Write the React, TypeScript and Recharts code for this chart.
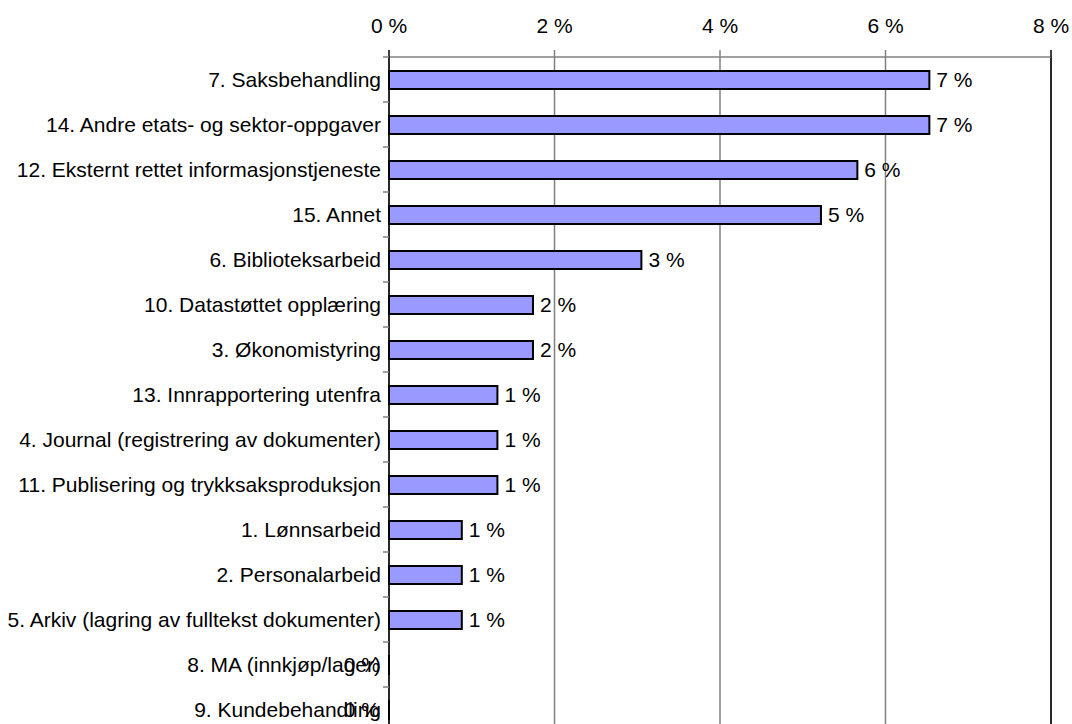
import React from 'react';
import { BarChart, Bar, XAxis, YAxis, CartesianGrid, ReferenceLine, LabelList } from 'recharts';

const categories = [
  '7. Saksbehandling',
  '14. Andre etats- og sektor-oppgaver',
  '12. Eksternt rettet informasjonstjeneste',
  '15. Annet',
  '6. Biblioteksarbeid',
  '10. Datastøttet opplæring',
  '3. Økonomistyring',
  '13. Innrapportering utenfra',
  '4. Journal (registrering av dokumenter)',
  '11. Publisering og trykksaksproduksjon',
  '1. Lønnsarbeid',
  '2. Personalarbeid',
  '5. Arkiv (lagring av fulltekst dokumenter)',
  '8. MA (innkjøp/lager)',
  '9. Kundebehandling',
];

const shares = [6.53, 6.53, 5.66, 5.22, 3.05, 1.74, 1.74, 1.31, 1.31, 1.31, 0.88, 0.88, 0.88, 0, 0];

const xTicks = [0, 2, 4, 6, 8];

const data = categories.map((name, i) => ({ name, value: shares[i] }));

const FONT = '"Liberation Sans", Arial, sans-serif';
const FS = 21;

const XTick = (props: any) => {
  const { x, y, payload } = props;
  const dark = payload.value === 0 || payload.value === 8;
  return (
    <g>
      <line x1={x} x2={x} y1={y - 7} y2={y} stroke={dark ? '#000' : '#808080'} strokeWidth={1.5} />
      <text x={x} y={y - 24} textAnchor="middle" fontFamily={FONT} fontSize={FS} fill="#000">
        {`${payload.value} %`}
      </text>
    </g>
  );
};

const YTick = (props: any) => {
  const { x, y, payload } = props;
  const half = 22.5;
  return (
    <g>
      <line x1={x - 6} x2={x} y1={y - half} y2={y - half} stroke="#808080" strokeWidth={1.5} />
      <text x={x - 8} y={y} dy={7} textAnchor="end" fontFamily={FONT} fontSize={FS} fill="#000">
        {payload.value}
      </text>
    </g>
  );
};

const ValueLabel = (props: any) => {
  const { x, y, width, height, value } = props;
  const v = Number(value) || 0;
  const txt = `${Math.round(v)} %`;
  if (v < 0.01) {
    return (
      <text x={x - 9} y={y + height / 2} dy={7} textAnchor="end" fontFamily={FONT} fontSize={FS} fill="#000">
        {txt}
      </text>
    );
  }
  return (
    <text x={x + width + 7} y={y + height / 2} dy={7} textAnchor="start" fontFamily={FONT} fontSize={FS} fill="#000">
      {txt}
    </text>
  );
};

export default function App() {
  return (
    <div style={{ position: 'absolute', left: 0, top: 0, width: 1072, height: 724, overflow: 'hidden', background: '#fff' }}>
      <BarChart
        width={1072}
        height={740}
        data={data}
        layout="vertical"
        margin={{ top: 27, right: 21, bottom: 8, left: 0 }}
      >
        <CartesianGrid horizontal={false} stroke="#808080" strokeWidth={1.5} />
        <XAxis
          type="number"
          orientation="top"
          domain={[0, 8]}
          ticks={xTicks}
          height={30}
          tickSize={0}
          tickMargin={0}
          tick={<XTick />}
          tickLine={false}
          axisLine={{ stroke: '#808080', strokeWidth: 1.5 }}
          interval={0}
        />
        <YAxis
          type="category"
          dataKey="name"
          width={389}
          tickSize={0}
          tickMargin={0}
          tick={<YTick />}
          tickLine={false}
          axisLine={{ stroke: '#000', strokeWidth: 1.5 }}
          interval={0}
        />
        <ReferenceLine x={8} stroke="#000" strokeWidth={1.5} />
        <Bar
          dataKey="value"
          fill="#9999FF"
          stroke="#000"
          strokeWidth={2}
          barSize={18}
          minPointSize={0.01}
          isAnimationActive={false}
        >
          <LabelList dataKey="value" content={<ValueLabel />} />
        </Bar>
      </BarChart>
    </div>
  );
}
